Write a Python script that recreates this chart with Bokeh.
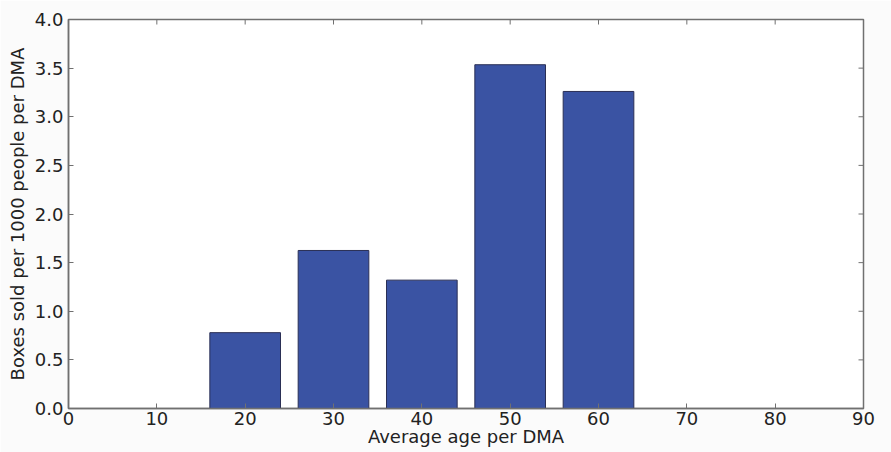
from bokeh.plotting import figure
from bokeh.models import LinearAxis, FixedTicker, PrintfTickFormatter, Range1d
from bokeh.embed import file_html
from bokeh.resources import INLINE

ages = [20, 30, 40, 50, 60]
boxes = [0.78, 1.625, 1.32, 3.535, 3.26]
x_ticks = [0, 10, 20, 30, 40, 50, 60, 70, 80, 90]
y_ticks = [0.0, 0.5, 1.0, 1.5, 2.0, 2.5, 3.0, 3.5, 4.0]

FONT = "DejaVu Sans"
TXT = "#222222"
FRAME = "#707070"

p = figure(width=891, height=452, output_backend="svg", toolbar_location=None,
           x_range=Range1d(0, 90), y_range=Range1d(0, 4.0),
           x_axis_location=None, y_axis_location=None,
           min_border_left=68, min_border_right=28, min_border_top=19, min_border_bottom=44)
p.background_fill_color = "white"
p.border_fill_color = "#fbfbfb"
p.outline_line_color = FRAME
p.outline_line_width = 1.5
p.xgrid.visible = False
p.ygrid.visible = False

p.vbar(x=ages, top=boxes, width=8, fill_color="#3a53a3", line_color="#2a2f55", line_width=1)

# inward ticks on the top and right edges of the frame (clipped to the frame)
p.scatter(x=x_ticks, y=[4.0] * len(x_ticks), marker="dash", angle=1.5708, size=10,
          line_color=FRAME, line_width=1)
p.scatter(x=[90] * len(y_ticks), y=y_ticks, marker="dash", size=10,
          line_color=FRAME, line_width=1)

def style(ax):
    ax.axis_line_color = FRAME
    ax.axis_line_width = 1.5
    ax.major_tick_in = 5
    ax.major_tick_out = 0
    ax.major_tick_line_color = FRAME
    ax.minor_tick_line_color = None
    ax.major_label_text_font = FONT
    ax.major_label_text_color = TXT
    ax.major_label_text_font_size = "18px"
    ax.axis_label_text_font = FONT
    ax.axis_label_text_color = TXT
    ax.axis_label_text_font_style = "normal"
    ax.axis_label_text_font_size = "18px"

xb = LinearAxis(ticker=FixedTicker(ticks=x_ticks), axis_label="Average age per DMA")
style(xb)
xb.major_label_standoff = 3
xb.axis_label_standoff = -2
p.add_layout(xb, "below")

yl = LinearAxis(ticker=FixedTicker(ticks=y_ticks), formatter=PrintfTickFormatter(format="%.1f"),
                axis_label="Boxes sold per 1000 people per DMA")
style(yl)
yl.major_label_standoff = 5
yl.axis_label_standoff = 4
p.add_layout(yl, "left")

open("out.html", "w").write(file_html(p, INLINE))
